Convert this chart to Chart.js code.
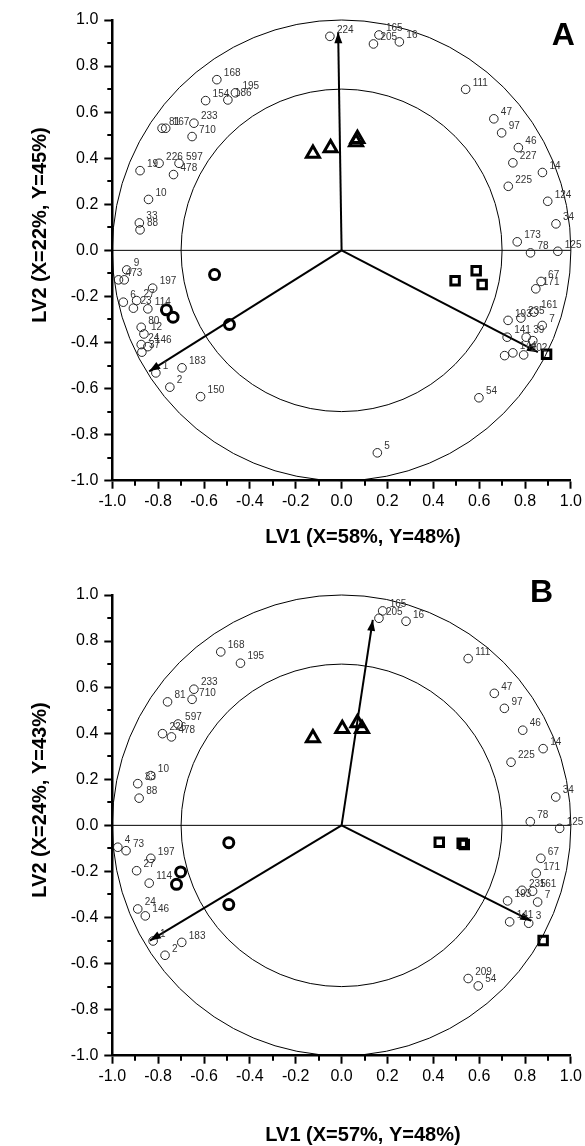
<!DOCTYPE html>
<html>
<head>
<meta charset="utf-8">
<script src="https://cdn.jsdelivr.net/npm/chart.js@4.4.1/dist/chart.umd.min.js"></script>
<style>
  body { margin: 0; background: #fff; }
  .panel { position: absolute; left: 0; }
  canvas { display: block; }
</style>
</head>
<body>
<div class="panel" style="top:0"><canvas id="chartA" width="585" height="575"></canvas></div>
<div class="panel" style="top:575px"><canvas id="chartB" width="585" height="571"></canvas></div>
<script>
// axis ticks and reference circles (correlation loadings)
const majorTicks = [-1.0, -0.8, -0.6, -0.4, -0.2, 0.0, 0.2, 0.4, 0.6, 0.8, 1.0];
const minorTicks = [-0.9, -0.7, -0.5, -0.3, -0.1, 0.1, 0.3, 0.5, 0.7, 0.9];
const circleRadii = [1.0, 0.7];

// ---- panel A ----
const varIdsA = ['168','195','186','154','81','167','233','710','226','597','478','19','10','33','88',
  '224','165','205','16','111','47','97','46','227','14','225','124','34','173','78','125',
  '67','171','161','235','193','7','141','39','','144','','202','54','5',
  '9','73','4','197','6','27','23','114','80','12','24','146','37','1','183','2','150'];
const varXA = [-0.544,-0.463,-0.496,-0.593,-0.783,-0.767,-0.644,-0.652,-0.796,-0.709,-0.733,-0.879,-0.842,-0.882,-0.879,
  -0.051,0.163,0.139,0.252,0.541,0.664,0.698,0.771,0.747,0.876,0.727,0.899,0.935,0.766,0.824,0.943,
  0.870,0.847,0.839,0.782,0.726,0.875,0.722,0.805,0.834,0.747,0.711,0.794,0.599,0.156,
  -0.937,-0.948,-0.973,-0.824,-0.952,-0.894,-0.908,-0.845,-0.874,-0.862,-0.874,-0.845,-0.871,-0.810,-0.696,-0.749,-0.615];
const varYA = [0.741,0.684,0.653,0.650,0.530,0.530,0.552,0.494,0.378,0.378,0.329,0.346,0.221,0.119,0.089,
  0.929,0.935,0.896,0.905,0.699,0.571,0.510,0.446,0.380,0.338,0.278,0.213,0.115,0.037,-0.011,-0.004,
  -0.135,-0.167,-0.268,-0.294,-0.304,-0.326,-0.377,-0.377,-0.392,-0.445,-0.457,-0.454,-0.640,-0.879,
  -0.085,-0.128,-0.128,-0.164,-0.225,-0.218,-0.251,-0.254,-0.334,-0.363,-0.409,-0.418,-0.442,-0.532,-0.510,-0.594,-0.635];
const circXA = [-0.554, -0.764, -0.735, -0.489];
const circYA = [-0.105, -0.258, -0.290, -0.322];
const squareXA = [0.495, 0.587, 0.613, 0.894];
const squareYA = [-0.132, -0.089, -0.148, -0.451];
const triXA = [-0.125, -0.048, 0.063, 0.069];
const triYA = [0.420, 0.444, 0.470, 0.485];
const arrowXA = [-0.015, -0.839, 0.856];
const arrowYA = [0.947, -0.525, -0.442];

// ---- panel B ----
const varIdsB = ['168','195','233','710','81','597','226','478','10','33','88',
  '4','73','197','27','114','24','146','1','183','2',
  '165','205','16','111','47','97','46','14','225','34','78','125',
  '67','171','235','161','193','7','141','3','209','54'];
const varXB = [-0.527,-0.441,-0.644,-0.652,-0.759,-0.713,-0.781,-0.742,-0.832,-0.889,-0.883,
  -0.976,-0.940,-0.832,-0.894,-0.839,-0.889,-0.856,-0.822,-0.697,-0.770,
  0.179,0.163,0.281,0.552,0.666,0.710,0.790,0.879,0.739,0.934,0.823,0.951,
  0.869,0.849,0.787,0.833,0.724,0.855,0.733,0.816,0.552,0.596];
const varYB = [0.753,0.704,0.591,0.547,0.536,0.440,0.398,0.384,0.216,0.181,0.118,
  -0.095,-0.110,-0.143,-0.197,-0.251,-0.363,-0.393,-0.502,-0.508,-0.564,
  0.931,0.899,0.886,0.724,0.573,0.508,0.413,0.333,0.274,0.123,0.016,-0.013,
  -0.143,-0.208,-0.282,-0.286,-0.328,-0.333,-0.419,-0.425,-0.665,-0.697];
const circXB = [-0.492, -0.702, -0.720, -0.492];
const circYB = [-0.075, -0.202, -0.256, -0.344];
const squareXB = [0.426, 0.526, 0.535, 0.879];
const squareYB = [-0.073, -0.078, -0.083, -0.500];
const triXB = [-0.125, 0.003, 0.069, 0.089];
const triYB = [0.379, 0.419, 0.444, 0.419];
const arrowXB = [0.136, -0.836, 0.827];
const arrowYB = [0.892, -0.500, -0.415];

const FONT = "'Liberation Sans', Arial, sans-serif";
const plotLeft = 112.3, plotRight = 573.3, plotTop = 20, plotBottom = 480.7;

const pts = (xs, ys) => xs.map((v, i) => ({x: v, y: ys[i]}));
const fmt = v => (Math.abs(v) < 1e-9 ? 0 : v).toFixed(1);

const loadingsPlot = {
  id: 'loadingsPlot',
  beforeDatasetsDraw(chart) {
    const {ctx, scales: {x, y}} = chart;
    const cx = x.getPixelForValue(0), cy = y.getPixelForValue(0);
    ctx.save();
    ctx.strokeStyle = '#000';
    ctx.lineWidth = 1;
    circleRadii.forEach(r => {
      ctx.beginPath();
      ctx.ellipse(cx, cy, x.getPixelForValue(r) - cx, cy - y.getPixelForValue(r), 0, 0, Math.PI * 2);
      ctx.stroke();
    });
    ctx.beginPath();
    ctx.moveTo(x.getPixelForValue(-1), cy);
    ctx.lineTo(x.getPixelForValue(1), cy);
    ctx.stroke();
    ctx.restore();
  },
  afterDatasetsDraw(chart) {
    const {ctx} = chart;
    ctx.save();
    chart.data.datasets.forEach((ds, di) => {
      const meta = chart.getDatasetMeta(di);
      if (ds.arrow) {
        const p0 = meta.data[0], p1 = meta.data[1];
        const a = Math.atan2(p1.y - p0.y, p1.x - p0.x);
        const len = 11, hw = 4;
        const bx = p1.x - len * Math.cos(a), by = p1.y - len * Math.sin(a);
        ctx.fillStyle = '#000';
        ctx.beginPath();
        ctx.moveTo(p1.x, p1.y);
        ctx.lineTo(bx - hw * Math.sin(a), by + hw * Math.cos(a));
        ctx.lineTo(bx + hw * Math.sin(a), by - hw * Math.cos(a));
        ctx.closePath();
        ctx.fill();
      }
      if (ds.ids) {
        ctx.fillStyle = '#333';
        ctx.font = `10px ${FONT}`;
        ctx.textAlign = 'left';
        ctx.textBaseline = 'middle';
        meta.data.forEach((p, i) => {
          if (ds.ids[i]) ctx.fillText(ds.ids[i], p.x + 7, p.y - 6.5);
        });
      }
    });
    ctx.restore();
  },
  afterDraw(chart, args, opts) {
    const {ctx, chartArea, scales: {x, y}} = chart;
    ctx.save();
    // minor ticks
    ctx.strokeStyle = '#000';
    ctx.lineWidth = 2;
    minorTicks.forEach(v => {
      const px = Math.round(x.getPixelForValue(v));
      ctx.beginPath();
      ctx.moveTo(px, chartArea.bottom);
      ctx.lineTo(px, chartArea.bottom + 5);
      ctx.stroke();
      const py = Math.round(y.getPixelForValue(v));
      ctx.beginPath();
      ctx.moveTo(chartArea.left, py);
      ctx.lineTo(chartArea.left - 5, py);
      ctx.stroke();
    });
    ctx.fillStyle = '#000';
    ctx.font = `bold 20px ${FONT}`;
    ctx.textAlign = 'center';
    ctx.textBaseline = 'middle';
    ctx.fillText(opts.xTitle, opts.xTitleX, opts.xTitleY);
    ctx.save();
    ctx.translate(40, opts.yTitleY);
    ctx.rotate(-Math.PI / 2);
    ctx.fillText(opts.yTitle, 0, 0);
    ctx.restore();
    ctx.font = `bold 32px ${FONT}`;
    ctx.textAlign = 'left';
    ctx.textBaseline = 'alphabetic';
    ctx.fillText(opts.letter, opts.letterX, opts.letterY);
    ctx.restore();
  }
};

function axis(isX, canvasHeight) {
  return {
    type: 'linear',
    min: -1,
    max: 1,
    afterBuildTicks: s => { s.ticks = majorTicks.map(v => ({value: v})); },
    afterFit: s => {
      if (isX) s.height = canvasHeight - plotBottom;
      else s.width = plotLeft;
    },
    ticks: {
      callback: v => fmt(v),
      font: {family: FONT, size: 16},
      color: '#000',
      padding: isX ? 3 : 6,
      maxRotation: 0,
      autoSkip: false
    },
    grid: {drawOnChartArea: false, drawTicks: true, tickLength: 8, tickWidth: 2, tickColor: '#000'},
    border: {display: true, color: '#000', width: 2.5}
  };
}

function makePanel(id, canvasHeight, d, labels) {
  const arrows = d.arrowX.map((ax, i) => ({
    data: [{x: 0, y: 0}, {x: ax, y: d.arrowY[i]}],
    arrow: true,
    showLine: true,
    borderColor: '#000',
    borderWidth: 2,
    pointRadius: 0,
    order: 3
  }));
  return new Chart(document.getElementById(id), {
    type: 'scatter',
    data: {
      datasets: [
        ...arrows,
        {data: pts(d.varX, d.varY), ids: d.ids, pointStyle: 'circle', pointRadius: 4.3,
          borderColor: '#222', borderWidth: 1, backgroundColor: 'rgba(0,0,0,0)', order: 2},
        {data: pts(d.circX, d.circY), pointStyle: 'circle', pointRadius: 5,
          borderColor: '#000', borderWidth: 3, backgroundColor: 'rgba(0,0,0,0)', order: 1},
        {data: pts(d.squareX, d.squareY), pointStyle: 'rect', pointRadius: 6,
          borderColor: '#000', borderWidth: 3, backgroundColor: 'rgba(0,0,0,0)', order: 1},
        {data: pts(d.triX, d.triY), pointStyle: 'triangle', pointRadius: 7.5,
          borderColor: '#000', borderWidth: 3, backgroundColor: 'rgba(0,0,0,0)', order: 1}
      ]
    },
    options: {
      responsive: false,
      animation: false,
      events: [],
      layout: {padding: {left: 0, top: plotTop, right: 585 - plotRight, bottom: 0}},
      scales: {x: axis(true, canvasHeight), y: axis(false, canvasHeight)},
      plugins: {
        legend: {display: false},
        tooltip: {enabled: false},
        loadingsPlot: labels
      }
    },
    plugins: [loadingsPlot]
  });
}

makePanel('chartA', 575, {
  ids: varIdsA, varX: varXA, varY: varYA,
  circX: circXA, circY: circYA, squareX: squareXA, squareY: squareYA,
  triX: triXA, triY: triYA, arrowX: arrowXA, arrowY: arrowYA
}, {
  letter: 'A', letterX: 551.7, letterY: 45,
  xTitle: 'LV1 (X=58%, Y=48%)', xTitleX: 363, xTitleY: 537.5,
  yTitle: 'LV2 (X=22%, Y=45%)', yTitleY: 225
});

makePanel('chartB', 571, {
  ids: varIdsB, varX: varXB, varY: varYB,
  circX: circXB, circY: circYB, squareX: squareXB, squareY: squareYB,
  triX: triXB, triY: triYB, arrowX: arrowXB, arrowY: arrowYB
}, {
  letter: 'B', letterX: 530, letterY: 26.7,
  xTitle: 'LV1 (X=57%, Y=48%)', xTitleX: 363, xTitleY: 560,
  yTitle: 'LV2 (X=24%, Y=43%)', yTitleY: 225
});
</script>
</body>
</html>
